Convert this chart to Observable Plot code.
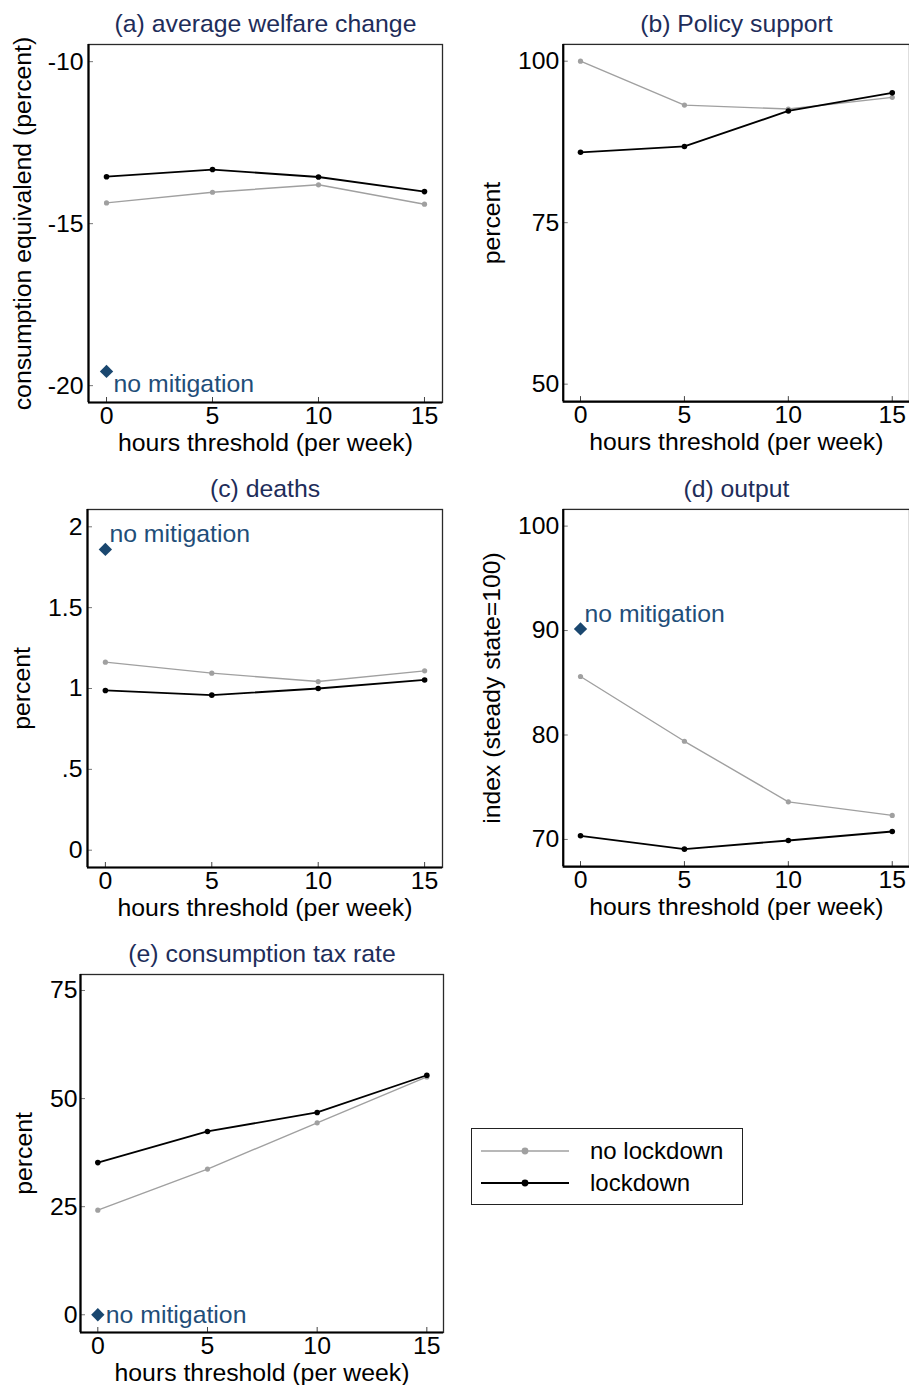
<!DOCTYPE html>
<html><head><meta charset="utf-8">
<script src="https://cdn.jsdelivr.net/npm/d3@7"></script>
<script src="https://cdn.jsdelivr.net/npm/@observablehq/plot@0.6"></script>
<style>
html,body{margin:0;padding:0;background:#fff;overflow:hidden;width:909px;height:1385px}
#root{position:relative;width:909px;height:1385px;font-family:"Liberation Sans",Arial,Helvetica,sans-serif;overflow:hidden}
.panel{position:absolute}
.panel svg{overflow:visible}
#legend{position:absolute;box-sizing:border-box;border:1.5px solid #222;background:#fff}
.lrow{position:absolute;left:0;height:30px;display:flex;align-items:center}
.lrow span{position:absolute;left:118px;font-size:24px;white-space:nowrap;color:#000;line-height:30px}
</style></head><body><div id="root"></div>
<script>
// ---------- data ----------
const hours = [0, 5, 10, 15];
const xTicks = [0, 5, 10, 15];
const seriesNames = ["no lockdown", "lockdown"];
const seriesColors = ["#a0a0a0", "#000000"];
const noMitigationLabel = "no mitigation";
const noMitigationHours = 0;
const xLabel = "hours threshold (per week)";

const welfareNoLockdown = [-14.36, -14.03, -13.80, -14.40];
const welfareLockdown   = [-13.55, -13.33, -13.56, -14.01];
const welfareNoMitigation = -19.56;
const welfareTicks = [-20, -15, -10];
const welfareTickLabels = ["-20", "-15", "-10"];

const supportNoLockdown = [100.0, 93.2, 92.6, 94.4];
const supportLockdown   = [85.9, 86.8, 92.3, 95.1];
const supportTicks = [50, 75, 100];
const supportTickLabels = ["50", "75", "100"];

const deathsNoLockdown = [1.163, 1.095, 1.043, 1.109];
const deathsLockdown   = [0.988, 0.959, 1.000, 1.053];
const deathsNoMitigation = 1.86;
const deathsTicks = [0, 0.5, 1, 1.5, 2];
const deathsTickLabels = ["0", ".5", "1", "1.5", "2"];

const outputNoLockdown = [85.6, 79.4, 73.6, 72.3];
const outputLockdown   = [70.35, 69.07, 69.9, 70.76];
const outputNoMitigation = 90.16;
const outputTicks = [70, 80, 90, 100];
const outputTickLabels = ["70", "80", "90", "100"];

const taxNoLockdown = [24.2, 33.7, 44.4, 55.0];
const taxLockdown   = [35.2, 42.4, 46.8, 55.4];
const taxNoMitigation = 0;
const taxTicks = [0, 25, 50, 75];
const taxTickLabels = ["0", "25", "50", "75"];

// ---------- styles ----------
const FONT = '"Liberation Sans", Arial, Helvetica, sans-serif';
const FS = 24.8;
const titleColor = "#1e2d5a";
const markerColor = "#1a476f";
const labelColor = "#1f4e79";

const root = document.getElementById("root");

function panel(cfg) {
  const rows = [];
  hours.forEach((h, i) => {
    rows.push({h, v: cfg.noLock[i], s: seriesNames[0]});
  });
  hours.forEach((h, i) => {
    rows.push({h, v: cfg.lock[i], s: seriesNames[1]});
  });
  const fw = cfg.width - cfg.ml - cfg.mr;
  const fh = cfg.height - cfg.mt - cfg.mb;
  const fmt = d => cfg.tickLabels[cfg.ticks.findIndex(t => Math.abs(t - d) < 1e-9)];
  const marks = [
    Plot.frame({stroke: "#2a2a2a", strokeWidth: 1.3}),
    Plot.tickY(cfg.ticks, {y: d => d, insetRight: fw - 5, stroke: "#777", strokeWidth: 1}),
    Plot.tickX(xTicks, {x: d => d, insetTop: fh - 5, stroke: "#444", strokeWidth: 1}),
    Plot.ruleX([cfg.xDomain[0]], {stroke: "#000", strokeWidth: 2.2}),
    Plot.ruleY([cfg.yDomain[0]], {stroke: "#000", strokeWidth: 2.2}),
    Plot.axisY({ticks: cfg.ticks, tickSize: 0, tickPadding: cfg.tp, tickFormat: fmt, fontSize: FS, label: null}),
    Plot.axisX({ticks: xTicks, tickSize: 0, tickPadding: 4, fontSize: FS, label: null, tickFormat: d => String(d)}),
    Plot.line(rows.filter(r => r.s === seriesNames[0]), {x: "h", y: "v", stroke: "s", strokeWidth: 1.4}),
    Plot.dot(rows.filter(r => r.s === seriesNames[0]), {x: "h", y: "v", fill: "s", r: 2.6}),
    Plot.line(rows.filter(r => r.s === seriesNames[1]), {x: "h", y: "v", stroke: "s", strokeWidth: 1.8}),
    Plot.dot(rows.filter(r => r.s === seriesNames[1]), {x: "h", y: "v", fill: "s", r: 2.8}),
    Plot.text([cfg.title], {text: d => d, frameAnchor: "top", lineAnchor: "top", dy: -30, fill: titleColor, fontSize: FS}),
    Plot.text([xLabel], {text: d => d, frameAnchor: "bottom", lineAnchor: "top", dy: 31, fontSize: FS}),
    Plot.text([cfg.yLabel], {text: d => d, frameAnchor: "left", rotate: -90, lineAnchor: "middle", textAnchor: "middle", dx: cfg.ylDx, fontSize: FS})
  ];
  if (cfg.noMit !== undefined) {
    marks.push(Plot.dot([cfg.noMit], {x: () => noMitigationHours, y: d => d, symbol: "diamond2", r: 6, fill: markerColor}));
    marks.push(Plot.text([cfg.noMit], {x: () => noMitigationHours, y: d => d, text: () => noMitigationLabel, textAnchor: "start", lineAnchor: "middle", dx: cfg.nmDx, dy: cfg.nmDy, fill: labelColor, fontSize: FS}));
  }
  const svg = Plot.plot({
    width: cfg.width, height: cfg.height,
    marginLeft: cfg.ml, marginRight: cfg.mr, marginTop: cfg.mt, marginBottom: cfg.mb,
    x: {domain: cfg.xDomain},
    y: {domain: cfg.yDomain},
    color: {domain: seriesNames, range: seriesColors},
    style: {fontFamily: FONT, fontSize: FS + "px", background: "transparent", overflow: "visible", color: "#000"},
    marks
  });
  const div = document.createElement("div");
  div.className = "panel";
  div.style.left = cfg.left + "px";
  div.style.top = cfg.top + "px";
  div.appendChild(svg);
  root.appendChild(div);
}

panel({title: "(a) average welfare change", yLabel: "consumption equivalend (percent)",
  noLock: welfareNoLockdown, lock: welfareLockdown, noMit: welfareNoMitigation,
  ticks: welfareTicks, tickLabels: welfareTickLabels,
  left: 0, top: 0, width: 455, height: 465, ml: 88, mr: 13, mt: 44, mb: 63,
  xDomain: [-0.85, 15.85], yDomain: [-20.52, -9.47], tp: 5, ylDx: -65, nmDx: 7, nmDy: 13});

panel({title: "(b) Policy support", yLabel: "percent",
  noLock: supportNoLockdown, lock: supportLockdown,
  ticks: supportTicks, tickLabels: supportTickLabels,
  left: 455, top: 0, width: 455, height: 465, ml: 108, mr: 0, mt: 44, mb: 63,
  xDomain: [-0.83, 15.83], yDomain: [47.3, 102.6], tp: 4, ylDx: -71});

panel({title: "(c) deaths", yLabel: "percent",
  noLock: deathsNoLockdown, lock: deathsLockdown, noMit: deathsNoMitigation,
  ticks: deathsTicks, tickLabels: deathsTickLabels,
  left: 0, top: 465, width: 455, height: 465, ml: 87, mr: 13, mt: 44, mb: 63,
  xDomain: [-0.84, 15.84], yDomain: [-0.107, 2.107], tp: 5, ylDx: -65, nmDx: 4, nmDy: -15});

panel({title: "(d) output", yLabel: "index (steady state=100)",
  noLock: outputNoLockdown, lock: outputLockdown, noMit: outputNoMitigation,
  ticks: outputTicks, tickLabels: outputTickLabels,
  left: 455, top: 465, width: 455, height: 465, ml: 108, mr: 0, mt: 44, mb: 63,
  xDomain: [-0.83, 15.83], yDomain: [67.4, 101.6], tp: 4, ylDx: -71, nmDx: 4, nmDy: -15});

panel({title: "(e) consumption tax rate", yLabel: "percent",
  noLock: taxNoLockdown, lock: taxLockdown, noMit: taxNoMitigation,
  ticks: taxTicks, tickLabels: taxTickLabels,
  left: 0, top: 930, width: 455, height: 455, ml: 80, mr: 12, mt: 44, mb: 53,
  xDomain: [-0.79, 15.76], yDomain: [-4.1, 78.7], tp: 3, ylDx: -56, nmDx: 8, nmDy: 0});

// ---------- legend ----------
const legend = document.createElement("div");
legend.id = "legend";
legend.style.left = "471px"; legend.style.top = "1128px";
legend.style.width = "272px"; legend.style.height = "77px";
seriesNames.forEach((name, i) => {
  const row = document.createElement("div");
  row.className = "lrow";
  row.style.top = (i === 0 ? 6.5 : 39) + "px";
  row.style.width = "270px";
  const ns = "http://www.w3.org/2000/svg";
  const s = document.createElementNS(ns, "svg");
  s.setAttribute("width", "110"); s.setAttribute("height", "30");
  s.style.position = "absolute"; s.style.left = "0"; s.style.top = "0";
  const ln = document.createElementNS(ns, "line");
  ln.setAttribute("x1", 9); ln.setAttribute("x2", 97);
  ln.setAttribute("y1", 15); ln.setAttribute("y2", 15);
  ln.setAttribute("stroke", seriesColors[i]);
  ln.setAttribute("stroke-width", i === 0 ? 1.6 : 2);
  const c = document.createElementNS(ns, "circle");
  c.setAttribute("cx", 53); c.setAttribute("cy", 15); c.setAttribute("r", 3.4);
  c.setAttribute("fill", seriesColors[i]);
  s.appendChild(ln); s.appendChild(c);
  const t = document.createElement("span");
  t.textContent = name;
  row.appendChild(s); row.appendChild(t);
  legend.appendChild(row);
});
root.appendChild(legend);
</script>
</body></html>
